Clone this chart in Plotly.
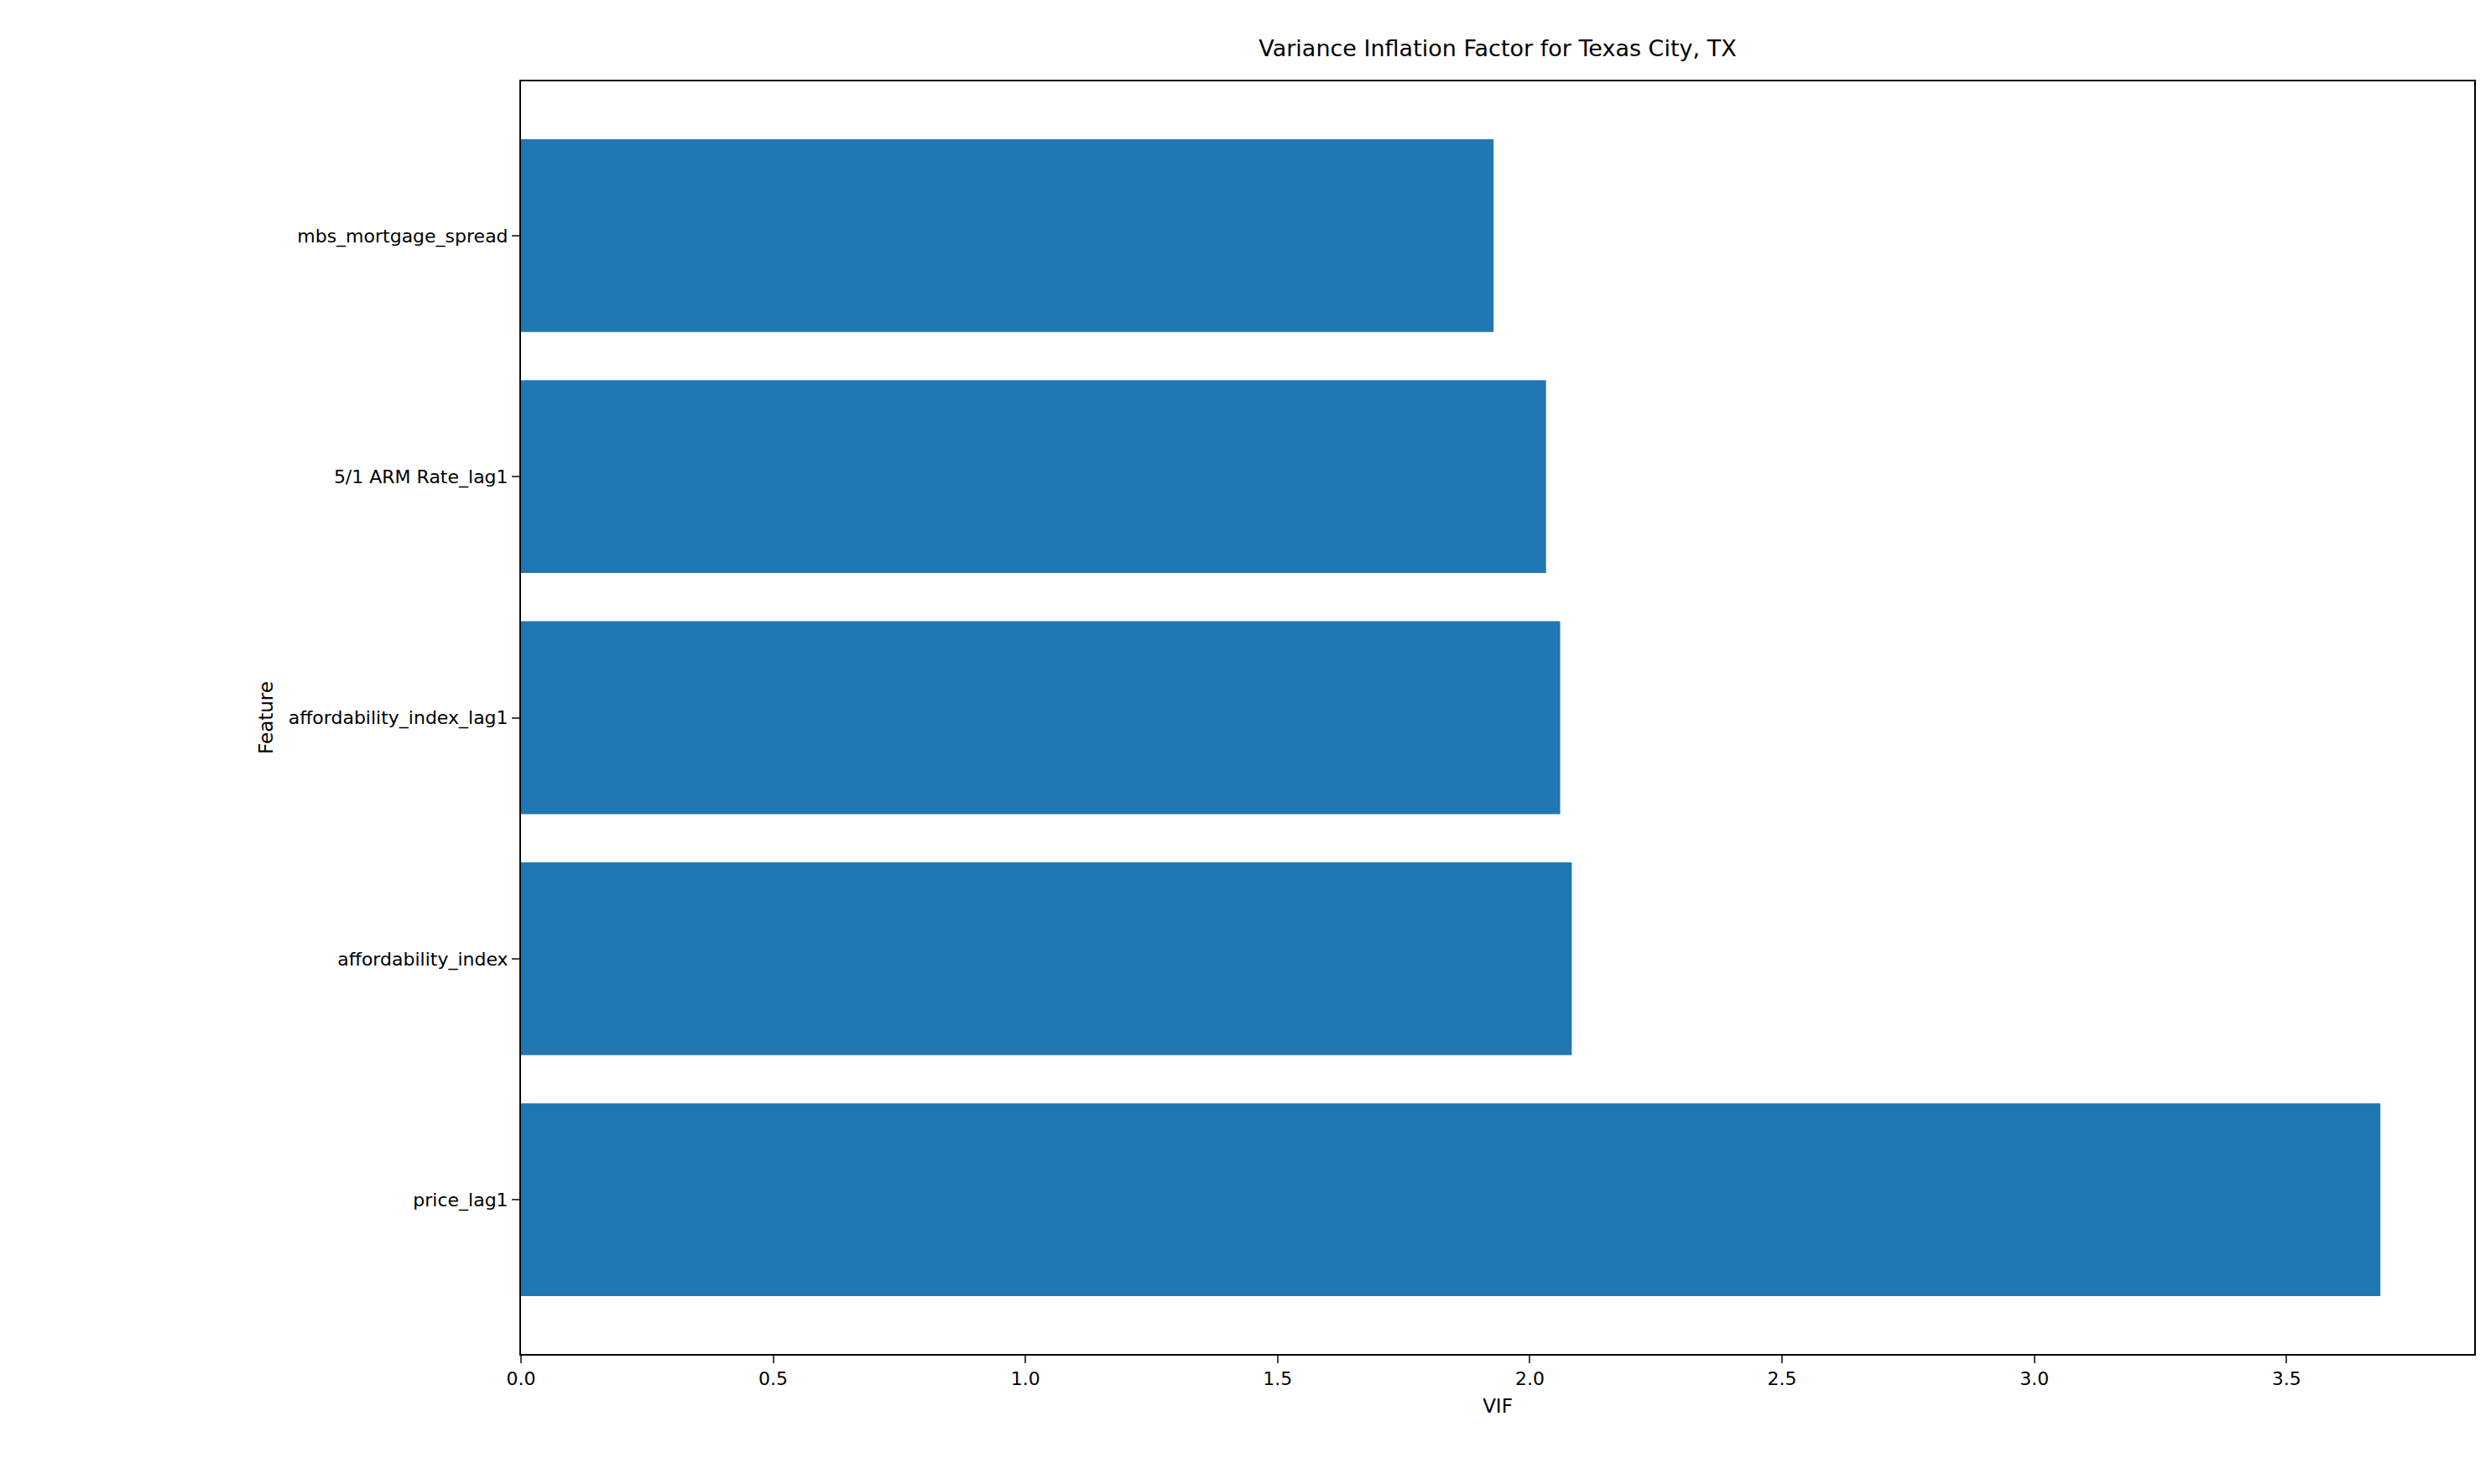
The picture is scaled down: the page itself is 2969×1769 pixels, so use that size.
import plotly.graph_objects as go

features = ["price_lag1", "affordability_index", "affordability_index_lag1",
            "5/1 ARM Rate_lag1", "mbs_mortgage_spread"]
vif = [3.686, 2.083, 2.060, 2.032, 1.928]
x_ticks = [0.0, 0.5, 1.0, 1.5, 2.0, 2.5, 3.0, 3.5]

fig = go.Figure(go.Bar(x=vif, y=list(range(len(features))), orientation="h",
                       width=0.8, marker=dict(color="#1f77b4", line=dict(width=0))))

axis_style = dict(showline=True, linecolor="black", linewidth=2, mirror=True,
                  ticks="outside", ticklen=9, tickwidth=2, showgrid=False,
                  zeroline=False, tickfont=dict(size=22, color="black"))

fig.update_layout(
    width=2969, height=1769,
    paper_bgcolor="white", plot_bgcolor="white",
    font=dict(family="DejaVu Sans", color="black"),
    margin=dict(l=613, r=28, t=89, b=163),
    title=dict(text="Variance Inflation Factor for Texas City, TX", x=0.5, xref="paper",
               y=1 - 50 / 1769, yanchor="middle", font=dict(size=27)),
    xaxis=dict(axis_style, range=[0, 3.872], tickvals=x_ticks,
               ticktext=[f"{v:.1f}" for v in x_ticks],
               title=dict(text="VIF", font=dict(size=23), standoff=12)),
    yaxis=dict(axis_style, range=[-0.64, 4.64], tickvals=list(range(len(features))),
               ticktext=features,
               title=dict(text="Feature", font=dict(size=23), standoff=12)),
    showlegend=False,
)

fig.write_html("out.html")
